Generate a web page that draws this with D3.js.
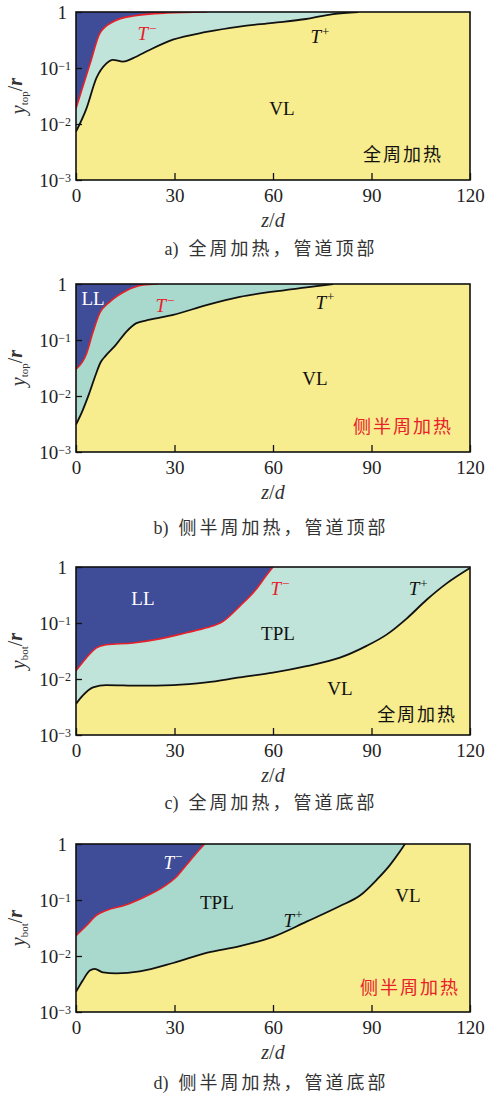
<!DOCTYPE html>
<html>
<head>
<meta charset="utf-8">
<script src="https://cdn.jsdelivr.net/npm/d3@7"></script>
<style>
  body { margin: 0; background: #fff; }
  svg { display: block; }
</style>
</head>
<body>
<div id="chart"></div>
<script>
// boundary curves, [z/d, y/r]
var aTminus = [[0, 0.019], [2, 0.045], [4.3, 0.12], [7.3, 0.42], [11.3, 0.67], [17.4, 0.85], [27.5, 0.96], [40, 1]];
var aTplus = [[0, 0.0073], [3.2, 0.019], [6.2, 0.066], [9.2, 0.12], [11.2, 0.14], [14.3, 0.13], [17.4, 0.15], [22.4, 0.21], [29.5, 0.32], [39.7, 0.44], [49.8, 0.55], [60, 0.64], [70.1, 0.75], [78.3, 0.92], [86, 1]];

var bTminus = [[0, 0.030], [3.2, 0.057], [5.2, 0.14], [7.2, 0.30], [10.3, 0.48], [15.3, 0.76], [20.4, 0.96], [25, 1]];
var bTplus = [[0, 0.0031], [2, 0.0055], [4, 0.011], [6, 0.024], [7.5, 0.040], [9, 0.052], [12, 0.08], [15.3, 0.14], [18.4, 0.20], [22.5, 0.23], [29.6, 0.28], [39.7, 0.42], [49.9, 0.59], [60, 0.73], [70.2, 0.87], [78.3, 1]];

var cTminus = [[0, 0.014], [3.2, 0.024], [6.2, 0.036], [9.2, 0.041], [17.4, 0.044], [25.5, 0.052], [33.6, 0.067], [39.7, 0.082], [44.8, 0.107], [49.9, 0.20], [55, 0.41], [58, 0.71], [60, 1]];
var cTplus = [[0, 0.0036], [2.1, 0.0051], [5.2, 0.0071], [9.2, 0.0078], [19.4, 0.0076], [29.6, 0.0078], [39.7, 0.0087], [49.9, 0.0107], [60, 0.013], [70.2, 0.017], [80.4, 0.024], [88.5, 0.039], [94.6, 0.062], [100.7, 0.12], [106.8, 0.26], [112.9, 0.51], [120, 0.96]];

var dTminus = [[0, 0.023], [3.2, 0.035], [6.2, 0.053], [9.2, 0.065], [15.3, 0.082], [20.4, 0.11], [26.5, 0.17], [30.6, 0.26], [33.6, 0.42], [36.7, 0.69], [39.2, 1]];
var dTplus = [[0, 0.0023], [2.1, 0.0037], [4.2, 0.0055], [5.7, 0.0059], [8.2, 0.0051], [12.3, 0.0049], [19.4, 0.0053], [29.6, 0.0075], [39.7, 0.0114], [49.9, 0.015], [60, 0.022], [70.2, 0.041], [80.4, 0.078], [86.5, 0.12], [91.6, 0.23], [95.6, 0.42], [98.7, 0.74], [100.2, 1]];

var xTicks = [0, 30, 60, 90, 120];
var yTicks = [1e-3, 1e-2, 1e-1, 1];
var yTickLabels = [["10", "−3"], ["10", "−2"], ["10", "−1"], ["1", ""]];

var captions = ["a) 全周加热，管道顶部", "b) 侧半周加热，管道顶部", "c) 全周加热，管道底部", "d) 侧半周加热，管道底部"];
var heatLabels = ["全周加热", "侧半周加热", "全周加热", "侧半周加热"];
var yLabelSubs = ["top", "top", "bot", "bot"];

var colors = {LL: "#3f4c98", VL: "#f7ec8e", red: "#e8202a", line: "#111"};
var tplColors = ["#c0e4d9", "#a8d9cc", "#c0e4d9", "#a8d9cc"];

// region labels per panel, in data coords
var labels = [
  [{t: "T", sup: "−", z: 21.6, y: 0.42, c: colors.red, it: true},
   {t: "T", sup: "+", z: 74.3, y: 0.36, c: "#111", it: true},
   {t: "VL", z: 62.7, y: 0.019, c: "#111"}],
  [{t: "LL", z: 5.2, y: 0.56, c: "#fff"},
   {t: "T", sup: "−", z: 27.1, y: 0.42, c: colors.red, it: true},
   {t: "T", sup: "+", z: 75.8, y: 0.48, c: "#111", it: true},
   {t: "VL", z: 72.8, y: 0.021, c: "#111"}],
  [{t: "LL", z: 20.4, y: 0.28, c: "#fff"},
   {t: "T", sup: "−", z: 62.1, y: 0.42, c: colors.red, it: true},
   {t: "T", sup: "+", z: 104.2, y: 0.42, c: "#111", it: true},
   {t: "TPL", z: 61.5, y: 0.066, c: "#111"},
   {t: "VL", z: 80.4, y: 0.0069, c: "#111"}],
  [{t: "T", sup: "−", z: 29.5, y: 0.48, c: "#fff", it: true},
   {t: "TPL", z: 42.9, y: 0.089, c: "#111"},
   {t: "T", sup: "+", z: 66.1, y: 0.044, c: "#111", it: true},
   {t: "VL", z: 101.1, y: 0.12, c: "#111"}]
];
var heatPos = [[99.6, 0.0028], [99.6, 0.0028], [103.9, 0.0023], [101.7, 0.0027]];
var heatColor = ["#111", colors.red, "#111", colors.red];

var panels = [
  {top: 12, red: aTminus, black: aTplus, cap: 248},
  {top: 284, red: bTminus, black: bTplus, cap: 527},
  {top: 567, red: cTminus, black: cTplus, cap: 802},
  {top: 844, red: dTminus, black: dTplus, cap: 1082}
];

var W = 490, H = 1095;
var left = 76, right = 470, ph = 168;
var serif = "'Liberation Serif', 'Times New Roman', serif";
var cjk = "'Noto Sans CJK SC', sans-serif";

var svg = d3.select("#chart").append("svg")
  .attr("width", W).attr("height", H);

var x = d3.scaleLinear().domain([0, 120]).range([left, right]);

panels.forEach(function(p, i) {
  var y = d3.scaleLog().domain([1e-3, 1]).range([p.top + ph, p.top]);
  var g = svg.append("g");
  var clipId = "clip" + i;
  g.append("clipPath").attr("id", clipId).append("rect")
    .attr("x", left).attr("y", p.top).attr("width", right - left).attr("height", ph);

  var plot = g.append("g").attr("clip-path", "url(#" + clipId + ")");

  plot.append("rect")
    .attr("x", left).attr("y", p.top).attr("width", right - left).attr("height", ph)
    .attr("fill", colors.VL);

  var area = d3.area()
    .x(function(d) { return x(d[0]); })
    .y0(y(1))
    .y1(function(d) { return y(d[1]); })
    .curve(d3.curveMonotoneX);
  var line = d3.line()
    .x(function(d) { return x(d[0]); })
    .y(function(d) { return y(d[1]); })
    .curve(d3.curveMonotoneX);

  plot.append("path").datum(p.black).attr("d", area).attr("fill", tplColors[i]);
  plot.append("path").datum(p.red).attr("d", area).attr("fill", colors.LL);
  plot.append("path").datum(p.black).attr("d", line)
    .attr("fill", "none").attr("stroke", colors.line).attr("stroke-width", 1.8);
  plot.append("path").datum(p.red).attr("d", line)
    .attr("fill", "none").attr("stroke", colors.red).attr("stroke-width", 1.6);

  // frame
  g.append("rect")
    .attr("x", left).attr("y", p.top).attr("width", right - left).attr("height", ph)
    .attr("fill", "none").attr("stroke", "#111").attr("stroke-width", 1.6);

  // x axis
  var xAxis = g.append("g")
    .attr("transform", "translate(0," + (p.top + ph) + ")")
    .call(d3.axisBottom(x).tickValues(xTicks).tickSizeInner(-7).tickSizeOuter(0).tickPadding(9));
  xAxis.select(".domain").remove();
  xAxis.selectAll("line").attr("stroke", "#111").attr("stroke-width", 1.3);
  xAxis.selectAll("text")
    .attr("font-family", serif).attr("font-size", 19).attr("fill", "#222")
    .attr("dy", "0.71em");

  // y axis
  var yAxis = g.append("g")
    .attr("transform", "translate(" + left + ",0)")
    .call(d3.axisLeft(y).tickValues(yTicks).tickSizeInner(-6).tickSizeOuter(0).tickPadding(10).tickFormat(""));
  yAxis.select(".domain").remove();
  yAxis.selectAll("line").attr("stroke", "#111").attr("stroke-width", 1.3);
  yAxis.selectAll(".tick").each(function(d, k) {
    var lab = yTickLabels[k];
    var t = d3.select(this).select("text")
      .attr("font-family", serif).attr("font-size", 19).attr("fill", "#222")
      .attr("x", lab[1] ? -5 : -9).attr("dy", "0.36em").attr("text-anchor", "end");
    t.append("tspan").text(lab[0]);
    if (lab[1]) t.append("tspan").attr("dy", "-0.45em").attr("font-size", 12).text(lab[1]);
  });

  // axis titles
  var cx = (left + right) / 2;
  var zt = g.append("text").attr("x", cx).attr("y", p.top + ph + 47)
    .attr("text-anchor", "middle").attr("font-family", serif).attr("font-size", 20)
    .attr("font-style", "italic").attr("fill", "#333");
  zt.append("tspan").text("z");
  zt.append("tspan").attr("font-style", "normal").text("/");
  zt.append("tspan").text("d");

  var yt = g.append("text")
    .attr("transform", "translate(25," + (p.top + ph / 2) + ") rotate(-90)")
    .attr("text-anchor", "middle").attr("font-family", serif).attr("font-size", 20).attr("fill", "#333");
  yt.append("tspan").attr("font-style", "italic").text("y");
  yt.append("tspan").attr("font-size", 11).attr("dy", "0.3em").text(yLabelSubs[i]);
  yt.append("tspan").attr("dy", "-0.3em").text("/");
  yt.append("tspan").attr("font-style", "italic").attr("font-weight", "bold").text("r");

  // caption
  var cap = g.append("text").attr("x", cx - 2).attr("y", p.cap + 7)
    .attr("text-anchor", "middle").attr("font-size", 18).attr("fill", "#333");
  cap.append("tspan").attr("font-family", serif).text(captions[i].slice(0, 2));
  cap.append("tspan").attr("font-family", cjk).attr("dx", 3).attr("letter-spacing", 3).text(captions[i].slice(2));

  // region labels
  labels[i].forEach(function(l) {
    var t = g.append("text").attr("x", x(l.z)).attr("y", y(l.y)).attr("dy", "0.35em")
      .attr("text-anchor", "middle").attr("font-family", serif).attr("font-size", 19)
      .attr("fill", l.c);
    t.append("tspan").attr("font-style", l.it ? "italic" : "normal").text(l.t);
    if (l.sup) t.append("tspan").attr("dx", 1).attr("dy", "-0.55em").attr("font-size", 13).text(l.sup);
  });

  g.append("text").attr("x", x(heatPos[i][0])).attr("y", y(heatPos[i][1])).attr("dy", "0.35em")
    .attr("text-anchor", "middle").attr("font-family", cjk).attr("font-size", 18)
    .attr("letter-spacing", 2).attr("fill", heatColor[i]).text(heatLabels[i]);
});
</script>
</body>
</html>
